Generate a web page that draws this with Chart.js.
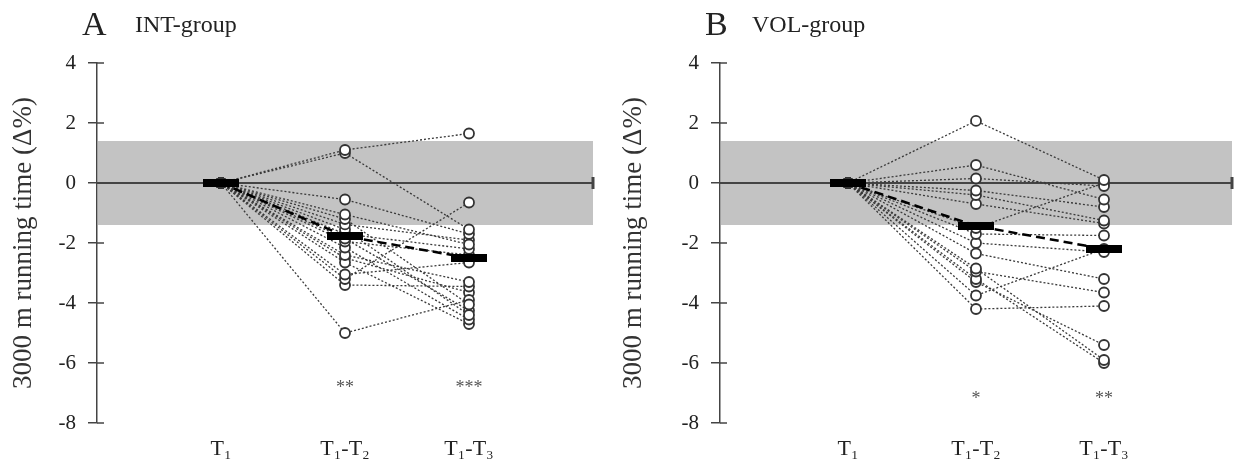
<!DOCTYPE html>
<html>
<head>
<meta charset="utf-8">
<script src="https://cdn.jsdelivr.net/npm/chart.js@4/dist/chart.umd.min.js"></script>
<style>
  body { margin: 0; background: #fff; }
  #wrap { position: relative; width: 1239px; height: 472px; }
  canvas { position: absolute; top: 0; }
</style>
</head>
<body>
<div id="wrap">
  <canvas id="chartA" width="610" height="472" style="left:0"></canvas>
  <canvas id="chartB" width="629" height="472" style="left:610px"></canvas>
</div>
<script>
// x categories and y ticks
const xLabels = ['T\u2081', 'T\u2081-T\u2082', 'T\u2081-T\u2083'];
const yTicks = [-8, -6, -4, -2, 0, 2, 4];
const bandLimit = 1.4; // grey band +/- (Δ%)
const yLabel = '3000 m running time (\u0394%)';

// INT-group: individual changes at T1-T2 and T1-T3 (T1 is always 0)
const intT2 = [1.1, 1.0, -0.55, -1.05, -1.2, -1.38, -1.55, -1.7, -1.85, -1.95, -2.15, -2.4, -2.65, -3.05, -3.2, -3.4, -5.0, -2.5];
const intT3 = [1.65, -1.55, -1.7, -2.05, -4.05, -1.9, -4.4, -2.2, -4.25, -2.4, -4.55, -3.3, -4.7, -2.65, -0.65, -3.45, -3.9, -3.65];
const intMean = [0, -1.77, -2.5];
const intStars = ['', '**', '***'];
const intStarY = -6.75;

// VOL-group
const volT2 = [2.07, 0.6, 0.15, -0.25, -0.4, -0.7, -1.5, -1.7, -2.0, -2.35, -2.85, -2.95, -3.2, -3.3, -3.75, -4.2];
const volT3 = [0.1, -0.55, -0.1, -0.8, -1.25, -1.35, 0.0, -1.75, -2.3, -3.2, -5.9, -3.65, -6.0, -5.4, -2.2, -4.1];
const volMean = [0, -1.43, -2.2];
const volStars = ['', '*', '**'];
const volStarY = -7.1;

const serif = "'Liberation Serif', 'DejaVu Serif', serif";
const axisColor = '#444';

// grey band, zero line and inner halves of the y ticks
const backdrop = {
  id: 'backdrop',
  beforeDatasetsDraw(chart) {
    const { ctx, chartArea, scales } = chart;
    const y = scales.y;
    ctx.save();
    ctx.fillStyle = '#c3c3c3';
    const top = y.getPixelForValue(bandLimit);
    const bot = y.getPixelForValue(-bandLimit);
    ctx.fillRect(chartArea.left + 1, top, chartArea.right - chartArea.left - 1, bot - top);

    const y0 = y.getPixelForValue(0);
    ctx.strokeStyle = axisColor;
    ctx.lineWidth = 2;
    ctx.beginPath();
    ctx.moveTo(chartArea.left, y0);
    ctx.lineTo(chartArea.right, y0);
    ctx.stroke();
    ctx.lineWidth = 3;
    ctx.beginPath();
    ctx.moveTo(chartArea.right, y0 - 6);
    ctx.lineTo(chartArea.right, y0 + 6);
    ctx.stroke();

    ctx.lineWidth = 1.5;
    yTicks.forEach(v => {
      const py = y.getPixelForValue(v);
      ctx.beginPath();
      ctx.moveTo(chartArea.left, py);
      ctx.lineTo(chartArea.left + 7, py);
      ctx.stroke();
    });
    ctx.restore();
  }
};

// panel letter, group name and significance stars
const annotations = {
  id: 'annotations',
  afterDraw(chart, args, opts) {
    const { ctx, scales } = chart;
    ctx.save();
    ctx.fillStyle = '#222';
    ctx.textBaseline = 'alphabetic';
    ctx.textAlign = 'left';
    ctx.font = '34px ' + serif;
    ctx.fillText(opts.letter, opts.letterX, 35);
    ctx.font = '24px ' + serif;
    ctx.fillText(opts.group, opts.groupX, 32);

    ctx.fillStyle = '#555';
    ctx.textAlign = 'center';
    ctx.textBaseline = 'middle';
    ctx.font = '18px ' + serif;
    opts.stars.forEach((s, i) => {
      if (!s) return;
      ctx.fillText(s, scales.x.getPixelForValue(i + 1), scales.y.getPixelForValue(opts.starY) + 3);
    });
    ctx.restore();
  }
};

function makeChart(id, t2, t3, mean, stars, starY, letter, group, axisWidth, padRight, letterX, groupX) {
  const datasets = [];
  datasets.push({
    data: mean.map((v, i) => ({ x: i + 1, y: v })),
    borderColor: '#000',
    borderWidth: 2.5,
    borderDash: [9, 5],
    pointStyle: 'line',
    pointRadius: 18,
    pointBorderWidth: 8,
    pointBorderColor: '#000'
  });
  t2.forEach((v, i) => {
    datasets.push({
      data: [{ x: 1, y: 0 }, { x: 2, y: v }, { x: 3, y: t3[i] }],
      borderColor: '#3a3a3a',
      borderWidth: 1.3,
      borderDash: [2, 2],
      pointRadius: 5,
      pointBorderWidth: 1.8,
      pointBackgroundColor: '#fff',
      pointBorderColor: '#333'
    });
  });

  return new Chart(document.getElementById(id), {
    type: 'line',
    data: { datasets },
    plugins: [backdrop, annotations],
    options: {
      responsive: false,
      animation: false,
      devicePixelRatio: 1,
      layout: { autoPadding: false, padding: { top: 63, right: padRight, bottom: 0, left: 0 } },
      plugins: {
        legend: { display: false },
        tooltip: { enabled: false },
        annotations: { letter, group, stars, starY, letterX, groupX }
      },
      scales: {
        x: {
          type: 'linear',
          min: 0,
          max: 4,
          afterBuildTicks: s => { s.ticks = xLabels.map((l, i) => ({ value: i + 1 })); },
          afterFit: s => { s.height = 49; },
          grid: { display: false, drawTicks: false },
          border: { display: false },
          ticks: {
            padding: 13,
            color: '#222',
            font: { family: serif, size: 22 },
            callback: v => xLabels[v - 1]
          }
        },
        y: {
          min: -8,
          max: 4,
          afterBuildTicks: s => { s.ticks = yTicks.map(v => ({ value: v })); },
          afterFit: s => { s.width = axisWidth; },
          grid: { drawOnChartArea: false, drawTicks: true, tickLength: 9, color: axisColor, lineWidth: 1.5 },
          border: { display: true, color: axisColor, width: 1.5 },
          ticks: { padding: 12, color: '#222', font: { family: serif, size: 21 } },
          title: {
            display: true,
            text: yLabel,
            color: '#333',
            font: { family: serif, size: 27 },
            padding: { top: 8, bottom: 0 }
          }
        }
      }
    }
  });
}

makeChart('chartA', intT2, intT3, intMean, intStars, intStarY, 'A', 'INT-group', 97, 17, 82, 135);
makeChart('chartB', volT2, volT3, volMean, volStars, volStarY, 'B', 'VOL-group', 110, 7, 95, 142);
</script>
</body>
</html>
